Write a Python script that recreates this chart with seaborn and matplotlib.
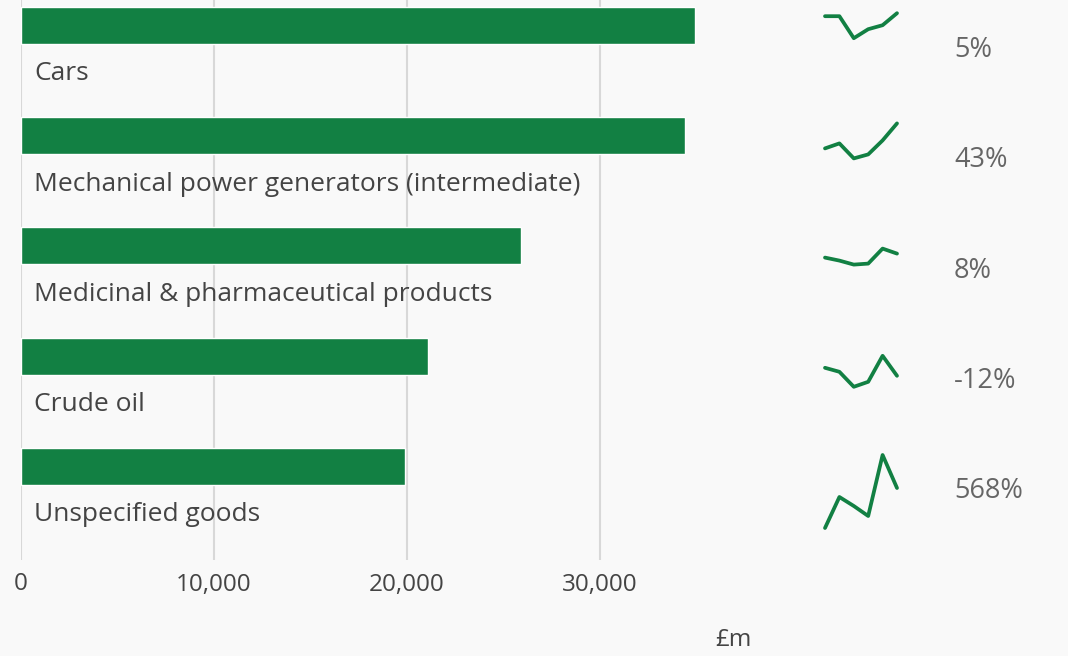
import matplotlib
matplotlib.use("Agg")
import matplotlib.pyplot as plt
import matplotlib.transforms as mtrans
import seaborn as sns
import pandas as pd

categories = ["Cars", "Mechanical power generators (intermediate)",
              "Medicinal & pharmaceutical products", "Crude oil", "Unspecified goods"]
values = [34900, 34400, 25900, 21100, 19900]
changes = ["5%", "43%", "8%", "-12%", "568%"]
spark_x = [2013, 2014, 2015, 2016, 2017, 2018]
spark_cars = [94, 94, 72, 81, 85, 97]
spark_mech = [72, 77, 62, 66, 80, 97]
spark_med = [73, 70, 66, 67, 82, 77]
spark_oil = [73, 69, 54, 59, 85, 65]
spark_unspec = [23, 54, 45, 35, 96, 63]
sparks = [spark_cars, spark_mech, spark_med, spark_oil, spark_unspec]
xticks = [0, 10000, 20000, 30000]

GREEN = "#128043"
BG = "#f9f9f9"
TXT = "#444444"

sns.set_theme(style="white")
plt.rcParams["font.family"] = ["Open Sans", "DejaVu Sans"]

W, H = 1068, 656
fig = plt.figure(figsize=(W / 100, H / 100), dpi=100, facecolor=BG)

ax_left, ax_right, ax_top, ax_bot = 21, 793, 0, 560
ax = fig.add_axes([ax_left / W, 1 - ax_bot / H, (ax_right - ax_left) / W, (ax_bot - ax_top) / H])
ax.set_facecolor(BG)

df = pd.DataFrame({"category": categories, "value": values})
sns.barplot(data=df, x="value", y="category", orient="h", color=GREEN,
            width=0.336, saturation=1, ax=ax, zorder=3)

pitch = 110.2
ax.set_xlim(0, 40000)
ax.set_ylim(4.85, -0.231)
ax.set_xticks(xticks)
ax.set_xticklabels([f"{t:,}" for t in xticks], fontsize=17.5, color=TXT)
ax.tick_params(axis="x", length=0, pad=9)
ax.set_yticks([])
ax.set_ylabel("")
ax.grid(axis="x", color="#d8d8d8", lw=1.5, zorder=0)
ax.grid(axis="y", visible=False)
ax.set_axisbelow(True)
for s in ax.spines.values():
    s.set_visible(False)

ax.set_xlabel("£m", fontsize=17.5, color=TXT)
ax.xaxis.set_label_coords((733 - ax_left) / (ax_right - ax_left), -80 / 560)
ax.xaxis.label.set_va("center")

for i, cat in enumerate(categories):
    ax.text(674, i + 0.44, cat, va="center", ha="left", fontsize=19, color=TXT)

tr = mtrans.blended_transform_factory(fig.transFigure, ax.transData)
for i, ch in enumerate(changes):
    ax.text(954 / W, i + 0.225, ch, transform=tr, va="center", ha="left",
            fontsize=19.5, color="#666666")

for i, vals in enumerate(sparks):
    top = pitch * i
    sax = fig.add_axes([825 / W, 1 - (top + pitch) / H, 72 / W, pitch / H])
    sns.lineplot(x=spark_x, y=vals, ax=sax, color=GREEN, lw=2.7, clip_on=False)
    sax.set_xlim(spark_x[0], spark_x[-1])
    sax.set_ylim(0, pitch)
    sax.axis("off")
    sax.patch.set_alpha(0)

fig.savefig("out.png", dpi=100, facecolor=BG)
